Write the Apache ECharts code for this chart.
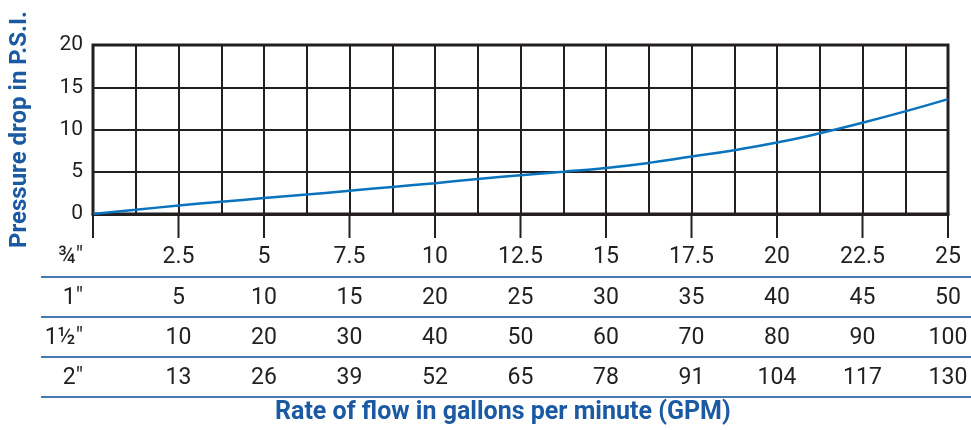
<!DOCTYPE html>
<html>
<head>
<meta charset="utf-8">
<script src="https://cdn.jsdelivr.net/npm/echarts@6/dist/echarts.min.js"></script>
<style>html,body{margin:0;padding:0;background:#fff}#c{width:971px;height:430px}</style>
</head>
<body>
<div id="c"></div>
<script>
// Curve: flow (3/4" scale, GPM) vs pressure drop (PSI)
const flow = [0, 1.25, 2.5, 3.75, 5, 6.25, 7.5, 8.75, 10, 11.25, 12.5, 13.75, 15, 16.25, 17.5, 18.75, 20, 21.25, 22.5, 23.75, 25];
const psi  = [0, 0.5, 1.0, 1.45, 1.88, 2.3, 2.75, 3.2, 3.65, 4.15, 4.6, 5.0, 5.45, 6.05, 6.8, 7.55, 8.45, 9.55, 10.8, 12.15, 13.6];

// Table rows
const sizes = ['¾"', '1"', '1½"', '2"'];
const row34 = [2.5, 5, 7.5, 10, 12.5, 15, 17.5, 20, 22.5, 25];
const row1  = [5, 10, 15, 20, 25, 30, 35, 40, 45, 50];
const row15 = [10, 20, 30, 40, 50, 60, 70, 80, 90, 100];
const row2  = [13, 26, 39, 52, 65, 78, 91, 104, 117, 130];
const rows = [row34, row1, row15, row2];

const xTicks = [0, 2.5, 5, 7.5, 10, 12.5, 15, 17.5, 20, 22.5, 25];
const yTicks = [0, 5, 10, 15, 20];

const FONT = 'Roboto';
const DARK = '#231f20';
const BLUE = '#1b5aa3';
const LINE_BLUE = '#0a73bd';
const SEP = '#4a78b0';

const gridTop = 45, gridBottom = 214;
const tickLen = 24;
const rowY = [257, 298, 338, 378];
const sepY = [277, 317, 357, 397];

const chart = echarts.init(document.getElementById('c'), null, {renderer: 'canvas'});

const xAxes = [{
  type: 'value', min: 0, max: 25, interval: 2.5, gridIndex: 0, position: 'bottom',
  axisLine: {show: true, onZero: false, lineStyle: {color: DARK, width: 3}},
  axisTick: {show: false},
  axisLabel: {show: false},
  splitLine: {show: true, lineStyle: {color: DARK, width: 2}},
  minorTick: {show: false, splitNumber: 2},
  minorSplitLine: {show: true, lineStyle: {color: DARK, width: 2}}
}, {
  // invisible helper axis sitting on the y-axis zero
  type: 'value', min: 0, max: 25, interval: 2.5, gridIndex: 0, position: 'bottom',
  axisLine: {show: false}, axisTick: {show: false}, axisLabel: {show: false}, splitLine: {show: false}
}];
rows.forEach((r, k) => {
  xAxes.push({
    type: 'value', min: 0, max: 25, interval: 2.5, gridIndex: 0, position: 'bottom',
    offset: rowY[k] - gridBottom,
    name: sizes[k], nameLocation: 'start', nameGap: 10,
    nameTextStyle: {fontFamily: FONT, fontSize: 23, color: DARK, verticalAlign: 'middle'},
    axisLine: {show: false, onZero: false}, axisTick: {show: false}, splitLine: {show: false},
    axisLabel: {
      show: true, margin: 0, verticalAlign: 'middle',
      fontFamily: FONT, fontSize: 23, color: DARK,
      formatter: function (v) {
        const i = Math.round(v / 2.5);
        return i >= 1 ? String(r[i - 1]) : '';
      }
    }
  });
});

const option = {
  animation: false,
  backgroundColor: '#fff',
  title: {
    text: 'Rate of flow in gallons per minute (GPM)',
    left: 275, top: 400, padding: 0,
    textStyle: {fontFamily: FONT, fontSize: 25, fontWeight: 'bold', color: BLUE}
  },
  grid: {
    left: 90, right: 23, top: gridTop, bottom: 430 - gridBottom,
    show: true, borderColor: DARK, borderWidth: 3, backgroundColor: 'transparent'
  },
  xAxis: xAxes,
  yAxis: {
    type: 'value', min: yTicks[0], max: yTicks[yTicks.length - 1], interval: 5,
    name: 'Pressure drop in P.S.I.', nameLocation: 'middle', nameGap: 61,
    nameTextStyle: {fontFamily: FONT, fontSize: 24, fontWeight: 'bold', color: BLUE},
    axisLine: {show: false}, axisTick: {show: false},
    axisLabel: {fontFamily: FONT, fontSize: 21, color: DARK, margin: 10},
    splitLine: {show: true, lineStyle: {color: DARK, width: 2}}
  },
  series: [{
    type: 'line', xAxisIndex: 0, yAxisIndex: 0,
    data: flow.map((x, i) => [x, psi[i]]),
    smooth: true, showSymbol: false, symbol: 'none',
    lineStyle: {color: LINE_BLUE, width: 2.5},
    z: 5
  }, {
    // tick marks hanging below the plot, placed through the axis scale
    type: 'custom', xAxisIndex: 0, yAxisIndex: 0, clip: false, silent: true, z: 6,
    data: xTicks.map(v => [v, yTicks[0]]),
    encode: {x: 0, y: 1},
    renderItem: function (params, api) {
      const p = api.coord([api.value(0), api.value(1)]);
      return {
        type: 'line',
        shape: {x1: p[0], y1: p[1], x2: p[0], y2: p[1] + tickLen},
        style: {stroke: DARK, lineWidth: 2}
      };
    }
  }],
  graphic: sepY.map(y => ({
    type: 'line', shape: {x1: 41, y1: y, x2: 971, y2: y},
    style: {stroke: SEP, lineWidth: 2}
  }))
};
chart.setOption(option);
</script>
</body>
</html>
